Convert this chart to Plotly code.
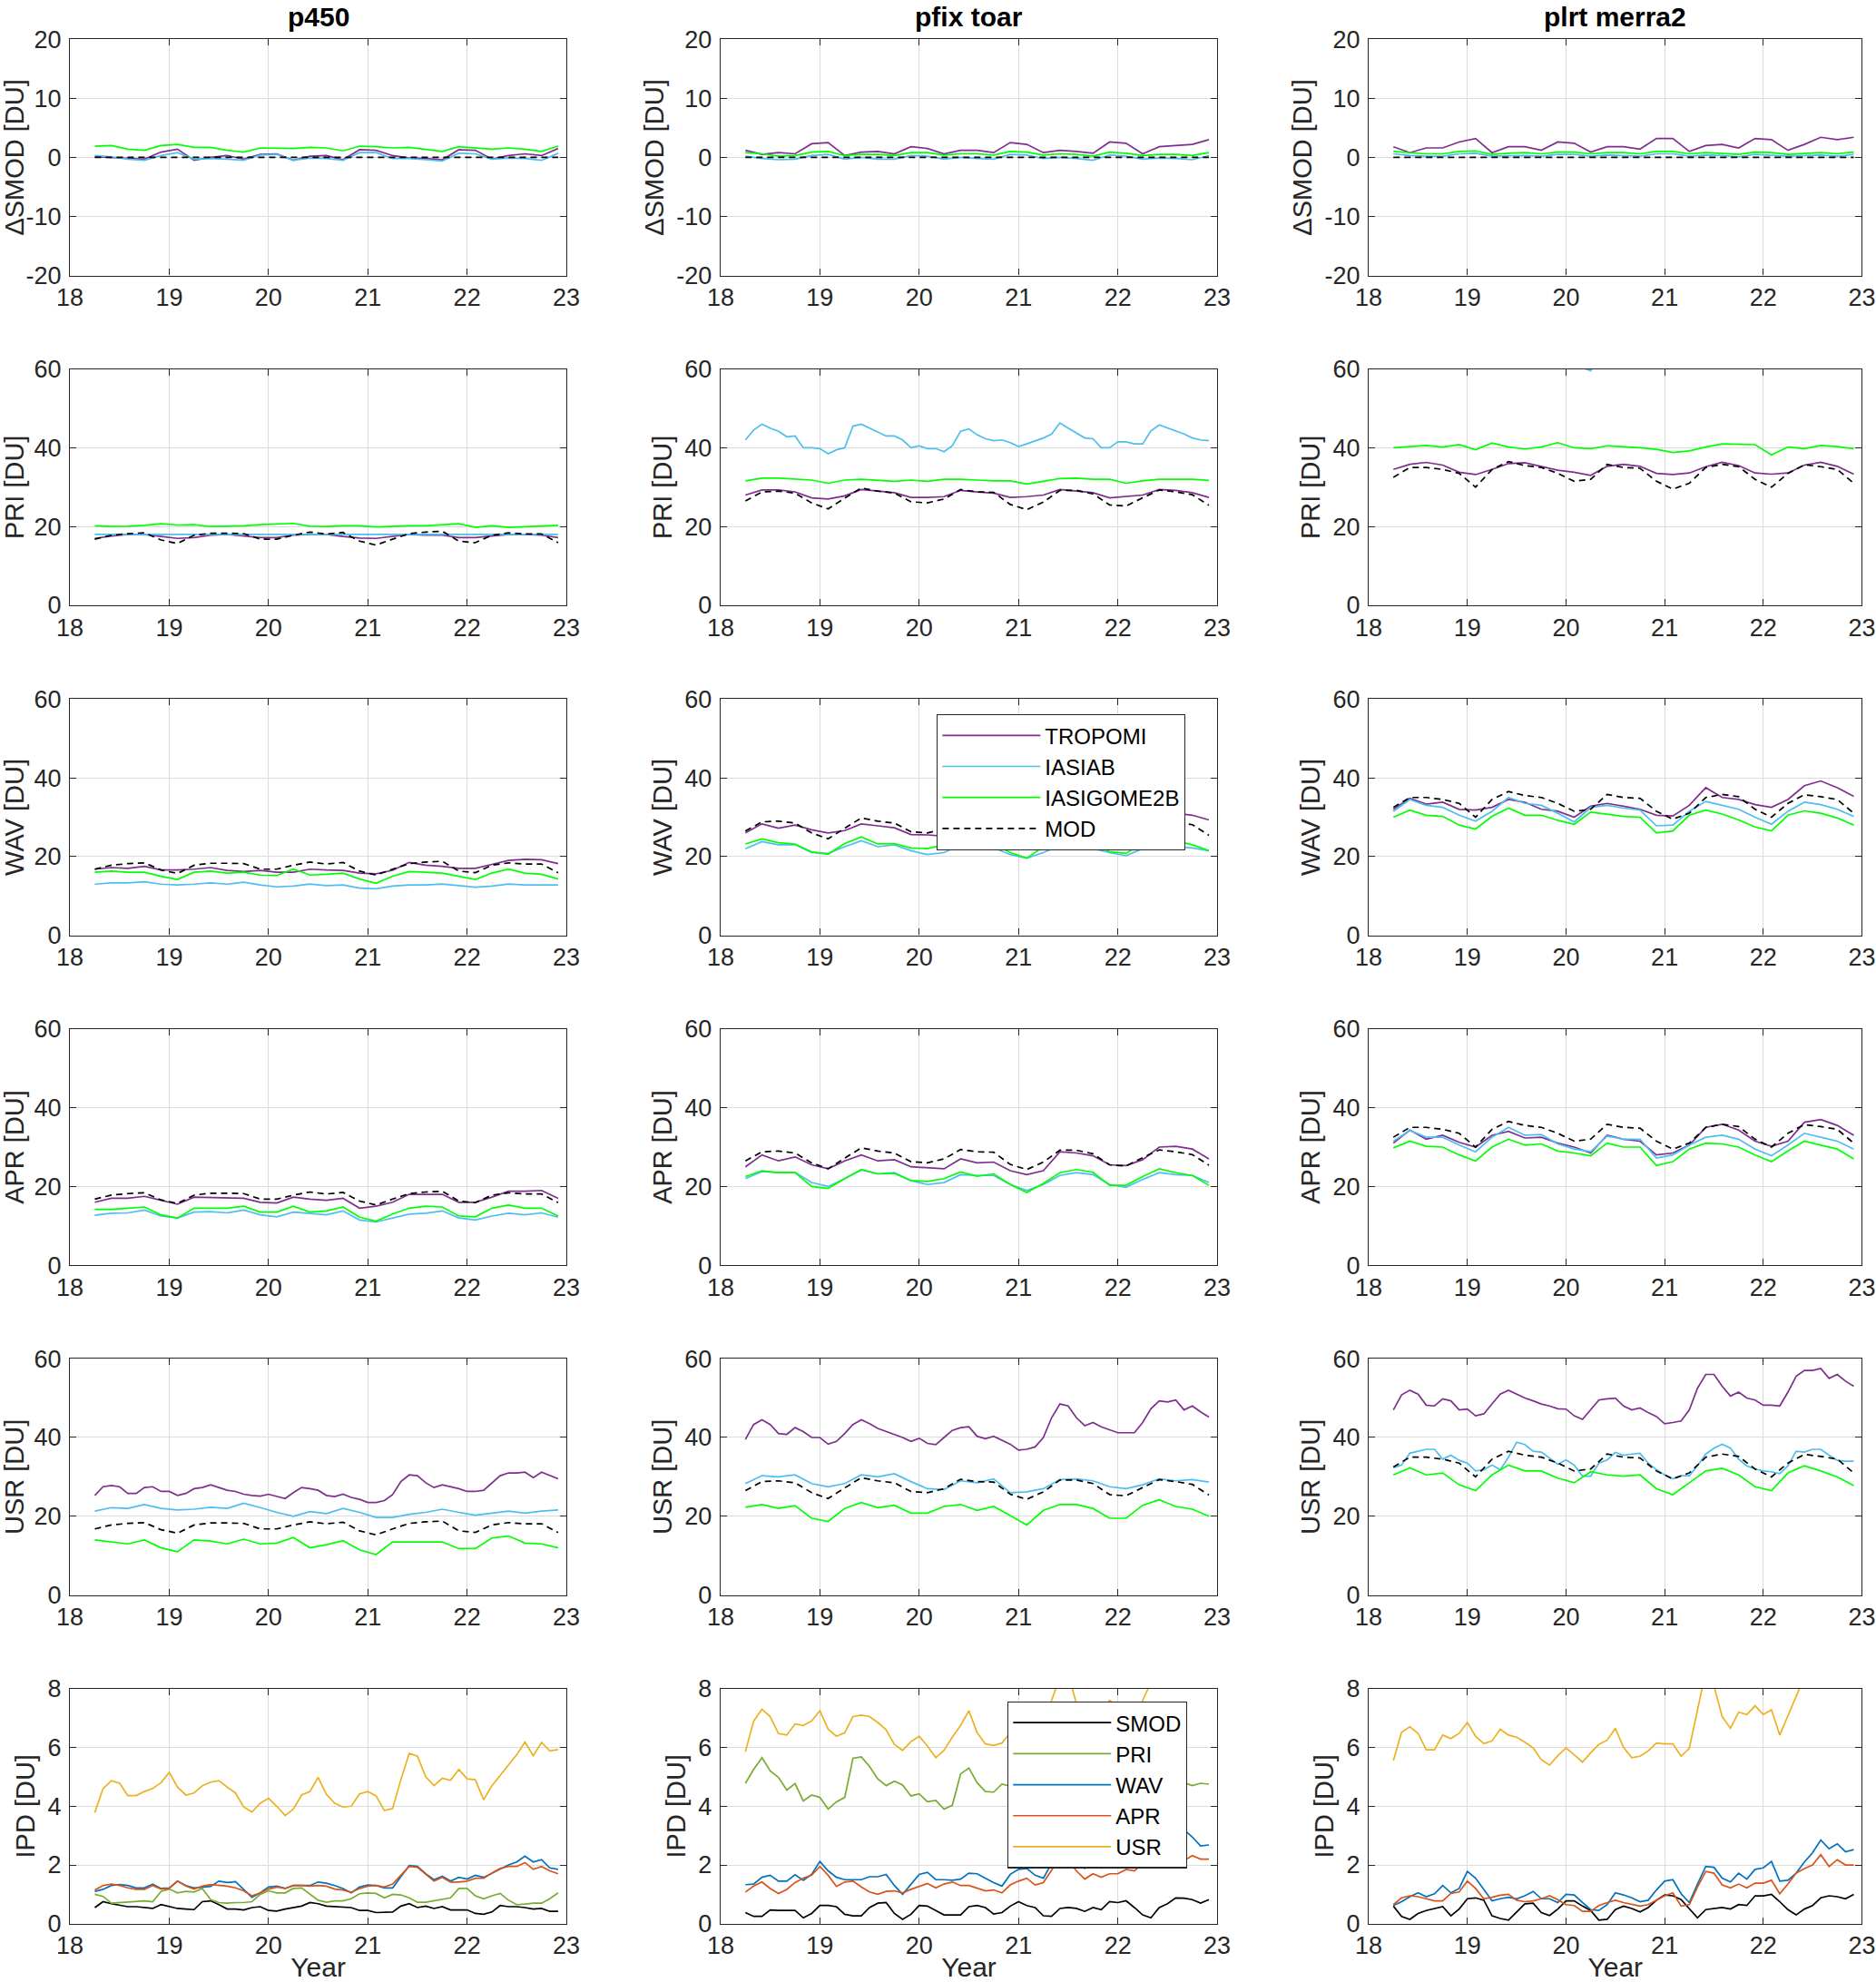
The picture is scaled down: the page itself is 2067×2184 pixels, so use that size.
import plotly.graph_objects as go

# ---------------- x values (decimal year, 2-digit) ----------------
years_bi = [18.250, 18.417, 18.583, 18.750, 18.917, 19.083, 19.250, 19.417, 19.583, 19.750,
            19.917, 20.083, 20.250, 20.417, 20.583, 20.750, 20.917, 21.083, 21.250, 21.417,
            21.583, 21.750, 21.917, 22.083, 22.250, 22.417, 22.583, 22.750, 22.917]
years_mo = [18.250, 18.333, 18.417, 18.500, 18.583, 18.667, 18.750, 18.833, 18.917,
            19.000, 19.083, 19.167, 19.250, 19.333, 19.417, 19.500, 19.583, 19.667, 19.750, 19.833, 19.917,
            20.000, 20.083, 20.167, 20.250, 20.333, 20.417, 20.500, 20.583, 20.667, 20.750, 20.833, 20.917,
            21.000, 21.083, 21.167, 21.250, 21.333, 21.417, 21.500, 21.583, 21.667, 21.750, 21.833, 21.917,
            22.000, 22.083, 22.167, 22.250, 22.333, 22.417, 22.500, 22.583, 22.667, 22.750, 22.833, 22.917]

col_titles = ["p450", "pfix toar", "plrt merra2"]
row_titles = ["\u0394SMOD [DU]", "PRI [DU]", "WAV [DU]", "APR [DU]", "USR [DU]", "IPD [DU]"]
sat_names = ["TROPOMI", "IASIAB", "IASIGOME2B", "MOD"]
ipd_names = ["SMOD", "PRI", "WAV", "APR", "USR"]

# ---------------- column 1 : p450 ----------------
dsmod1_trop = [0.1, 0.0, -0.2, -0.3, 0.9, 1.4, -0.5, 0.0, 0.3, -0.3, 0.5, 0.6, -0.5, 0.2, 0.3,
               -0.4, 1.3, 1.2, 0.3, -0.1, -0.2, -0.4, 1.3, 1.2, -0.3, 0.3, 0.6, 0.3, 1.5]
dsmod1_iasiab = [0.3, 0.1, -0.3, -0.5, 0.3, 0.8, -0.3, -0.2, -0.3, -0.5, 0.4, 0.5, -0.5, -0.1, -0.2,
                 -0.5, 0.8, 0.8, -0.2, -0.2, -0.4, -0.6, 0.7, 0.6, -0.3, -0.1, -0.2, -0.5, 0.7]
dsmod1_gome = [1.9, 2.0, 1.4, 1.2, 2.0, 2.2, 1.7, 1.7, 1.2, 0.9, 1.6, 1.6, 1.5, 1.7, 1.6,
               1.1, 1.9, 1.8, 1.6, 1.7, 1.4, 1.0, 1.8, 1.6, 1.4, 1.6, 1.4, 1.0, 1.9]
dsmod_mod = [0.0, 0.0, 0.0, 0.0, 0.0, 0.0, 0.0, 0.0, 0.0, 0.0, 0.0, 0.0, 0.0, 0.0, 0.0,
             0.0, 0.0, 0.0, 0.0, 0.0, 0.0, 0.0, 0.0, 0.0, 0.0, 0.0, 0.0, 0.0, 0.0]

mod1 = [16.8, 17.8, 18.2, 18.4, 16.6, 15.7, 17.8, 18.3, 18.3, 18.2, 16.8, 16.8, 17.8, 18.6, 18.1,
        18.5, 16.3, 15.3, 16.8, 18.2, 18.6, 18.8, 16.3, 15.9, 17.8, 18.4, 18.1, 18.1, 15.9]
pri1_trop = [17.0, 17.6, 18.0, 18.0, 17.5, 17.0, 17.2, 17.8, 18.0, 17.6, 17.2, 17.2, 17.8, 18.0, 18.0,
             17.5, 17.1, 17.0, 17.5, 18.0, 17.8, 17.8, 17.2, 17.2, 17.6, 18.0, 18.0, 17.8, 17.2]
pri1_iasiab = [18.0, 18.0, 18.0, 18.0, 18.0, 18.0, 18.0, 18.0, 18.0, 18.0, 18.0, 18.0, 18.0, 18.0, 18.0,
               18.0, 18.0, 18.0, 18.0, 18.0, 18.0, 18.0, 18.0, 18.0, 18.0, 18.0, 18.0, 18.0, 18.0]
pri1_gome = [20.2, 20.0, 20.1, 20.3, 20.7, 20.4, 20.5, 20.0, 20.1, 20.2, 20.5, 20.6, 20.8, 20.1, 20.0,
             20.2, 20.2, 19.9, 20.1, 20.2, 20.2, 20.4, 20.7, 19.8, 20.2, 19.8, 20.0, 20.1, 20.3]
wav1_trop = [16.8, 17.2, 17.0, 17.5, 16.6, 16.6, 16.8, 17.2, 16.5, 16.2, 16.5, 16.0, 16.0, 16.8, 16.6,
             16.5, 15.8, 15.6, 16.5, 18.5, 17.8, 17.5, 17.0, 17.0, 18.0, 19.0, 19.3, 19.2, 18.2]
wav1_iasiab = [13.0, 13.3, 13.3, 13.6, 13.0, 12.8, 13.0, 13.3, 13.0, 13.5, 12.8, 12.3, 12.5, 13.0, 12.6,
               12.8, 12.0, 11.8, 12.5, 12.8, 12.8, 13.0, 12.6, 12.2, 12.5, 13.0, 12.8, 12.8, 12.8]
wav1_gome = [16.0, 16.3, 16.0, 16.0, 15.0, 14.2, 16.0, 16.3, 15.8, 16.0, 15.3, 15.2, 16.8, 15.3, 15.5,
             15.8, 14.3, 13.2, 15.0, 16.2, 16.0, 15.8, 15.0, 14.2, 15.8, 16.8, 15.8, 15.5, 14.3]
apr1_trop = [16.0, 17.0, 17.0, 17.5, 16.5, 15.5, 17.3, 17.2, 17.0, 17.0, 16.0, 15.8, 17.3, 16.8, 16.5,
             17.0, 14.5, 15.0, 16.0, 18.0, 18.0, 18.0, 16.0, 16.0, 17.3, 18.8, 18.8, 19.0, 17.0]
apr1_iasiab = [12.7, 13.2, 13.3, 14.0, 12.5, 12.0, 13.5, 13.6, 13.3, 14.0, 12.8, 12.3, 13.5, 13.2, 12.8,
               13.8, 11.5, 11.0, 12.0, 13.0, 13.2, 13.8, 12.0, 11.5, 12.5, 13.2, 12.8, 13.3, 12.2]
apr1_gome = [14.2, 14.2, 14.5, 14.8, 12.8, 12.0, 14.5, 14.5, 14.5, 15.0, 13.5, 13.5, 15.0, 13.5, 13.8,
             14.8, 12.2, 11.2, 13.0, 14.5, 15.0, 14.8, 12.5, 12.3, 14.5, 15.3, 14.5, 14.5, 12.5]
# monthly
usr1_trop = [25.3, 27.5, 27.8, 27.5, 25.8, 25.8, 27.3, 27.5, 26.3, 26.3,
             25.3, 25.8, 27.0, 27.3, 28.0, 27.3, 26.6, 26.3, 25.6, 25.3,
             25.1, 25.6, 25.0, 24.5, 26.0, 27.3, 27.0, 26.6, 25.3, 25.0,
             25.6, 24.8, 24.3, 23.5, 23.5, 24.0, 25.5, 28.8, 30.5, 30.3,
             28.5, 27.3, 28.0, 27.5, 27.0, 26.3, 26.3, 26.6, 28.5, 30.3,
             31.0, 31.0, 31.2, 29.8, 31.2, 30.3, 29.5]
usr1_iasiab = [21.3, 22.2, 22.0, 23.0, 22.0, 21.6, 21.8, 22.3, 22.0, 23.3, 22.2, 21.0, 20.0, 21.2, 20.7,
               22.0, 21.0, 19.7, 19.7, 20.5, 21.0, 21.8, 21.0, 20.3, 20.8, 21.3, 20.8, 21.3, 21.6]
usr1_gome = [14.0, 13.5, 13.0, 14.0, 12.0, 11.0, 14.0, 13.7, 13.0, 14.2, 13.0, 13.2, 14.6, 12.0, 12.8,
             13.8, 11.5, 10.3, 13.5, 13.5, 13.5, 13.5, 11.8, 11.8, 14.5, 15.0, 13.2, 13.0, 12.0]

# ---------------- column 2 : pfix toar ----------------
dsmod2_trop = [1.2, 0.5, 0.8, 0.6, 2.3, 2.5, 0.3, 0.9, 1.0, 0.6, 1.8, 1.5, 0.6, 1.2, 1.2,
               0.8, 2.5, 2.2, 0.8, 1.2, 1.0, 0.7, 2.6, 2.4, 0.6, 1.8, 2.0, 2.2, 3.0]
dsmod2_iasiab = [0.2, -0.2, -0.4, -0.3, 0.3, 0.5, -0.3, 0.0, -0.3, -0.3, 0.3, 0.2, -0.3, 0.0, -0.2,
                 -0.3, 0.5, 0.4, -0.2, 0.0, -0.2, -0.5, 0.4, 0.2, -0.3, -0.1, -0.2, -0.4, 0.3]
dsmod2_gome = [0.8, 0.6, 0.2, 0.3, 0.9, 1.0, 0.3, 0.5, 0.5, 0.3, 0.8, 0.8, 0.4, 0.6, 0.6,
               0.4, 1.0, 0.9, 0.4, 0.6, 0.5, 0.2, 0.9, 0.7, 0.3, 0.5, 0.5, 0.3, 0.8]

mod2 = [26.5, 28.8, 29.0, 28.5, 26.0, 24.5, 27.2, 29.8, 29.0, 28.5, 26.3, 26.0, 27.0, 29.4, 28.8,
        28.7, 25.6, 24.3, 26.2, 29.2, 29.2, 28.3, 25.5, 25.2, 27.3, 29.3, 28.8, 28.1, 25.4]
pri2_trop = [28.0, 29.3, 29.3, 28.8, 27.3, 27.0, 27.8, 29.4, 29.0, 28.6, 27.4, 27.4, 27.6, 29.2, 28.8,
             28.5, 27.4, 27.6, 28.0, 29.4, 29.0, 28.6, 27.3, 27.6, 28.0, 29.4, 29.2, 28.6, 27.4]
# monthly
pri2_iasiab = [42.0, 44.5, 46.0, 45.0, 44.2, 42.8, 43.0, 40.0, 40.0, 39.8,
               38.5, 39.5, 40.0, 45.5, 46.0, 45.0, 44.0, 43.0, 43.0, 42.0,
               40.0, 40.5, 39.8, 39.8, 39.0, 40.5, 44.2, 44.8, 43.3, 42.3,
               41.8, 42.0, 41.3, 40.3, 41.0, 41.8, 42.5, 43.5, 46.3, 45.0,
               43.8, 42.5, 42.3, 40.0, 40.0, 41.5, 41.5, 41.0, 41.0, 44.3,
               45.8, 45.0, 44.3, 43.5, 42.5, 42.0, 41.8]
pri2_gome = [31.6, 32.3, 32.3, 32.0, 31.8, 31.0, 31.8, 32.0, 31.7, 31.5, 31.8, 31.5, 32.0, 32.0, 31.8,
             31.6, 31.6, 30.8, 31.5, 32.2, 32.3, 32.0, 32.0, 31.0, 31.6, 32.0, 32.0, 32.0, 31.7]
wav2_trop = [26.0, 28.3, 27.2, 28.0, 26.8, 26.0, 26.6, 28.3, 27.8, 27.3, 25.6, 25.5, 25.2, 27.0, 26.8,
             26.5, 25.2, 25.0, 25.5, 29.0, 30.0, 28.5, 27.5, 27.0, 28.0, 30.5, 31.0, 30.5, 29.3]
wav2_iasiab = [22.0, 23.8, 23.0, 23.0, 21.0, 20.8, 22.5, 24.0, 22.5, 23.0, 21.5, 20.5, 21.0, 23.0, 22.0,
               22.2, 20.5, 19.6, 21.0, 22.8, 23.0, 22.0, 21.0, 20.2, 22.0, 23.2, 22.5, 22.2, 21.5]
wav2_gome = [23.2, 24.5, 23.5, 23.2, 21.2, 20.6, 23.3, 25.0, 23.2, 23.3, 22.2, 22.0, 23.0, 24.2, 23.0,
             23.2, 21.0, 19.6, 22.5, 24.2, 24.5, 23.5, 21.2, 20.8, 23.5, 25.0, 24.0, 23.0, 21.5]
apr2_trop = [25.0, 28.0, 26.5, 27.5, 25.5, 24.5, 26.5, 28.0, 26.5, 26.8, 25.0, 24.7, 24.5, 27.0, 26.0,
             26.2, 24.0, 23.0, 24.0, 28.8, 28.5, 27.8, 25.5, 25.3, 26.8, 30.0, 30.2, 29.5, 27.0]
apr2_iasiab = [22.0, 23.8, 23.5, 23.6, 21.0, 20.0, 22.0, 24.2, 23.2, 23.5, 21.5, 20.5, 21.0, 23.0, 22.8,
               22.8, 20.5, 19.0, 20.5, 22.8, 23.5, 23.0, 20.5, 19.8, 21.8, 23.5, 23.0, 22.8, 21.0]
apr2_gome = [22.5, 24.0, 23.5, 23.5, 20.0, 19.5, 22.0, 24.3, 23.2, 23.3, 21.5, 21.3, 22.0, 23.7, 22.6,
             23.2, 20.5, 18.5, 20.8, 23.5, 24.3, 23.6, 20.3, 20.3, 22.5, 24.5, 23.5, 22.8, 20.3]
# monthly
usr2_trop = [39.5, 43.3, 44.5, 43.3, 41.0, 40.8, 42.5, 41.5, 40.0, 40.0,
             38.3, 39.0, 41.0, 43.3, 44.5, 43.5, 42.3, 41.5, 40.8, 40.0,
             39.0, 39.8, 38.5, 38.2, 40.0, 41.8, 42.5, 42.7, 40.3, 39.7,
             40.3, 39.3, 38.3, 36.8, 37.0, 37.6, 40.0, 45.0, 48.5, 48.0,
             45.0, 43.0, 43.8, 42.7, 42.0, 41.2, 41.2, 41.2, 43.8, 47.3,
             49.3, 49.0, 49.5, 47.0, 48.0, 46.5, 45.2]
usr2_iasiab = [28.3, 30.3, 30.0, 30.5, 28.3, 27.5, 28.3, 30.5, 30.0, 30.8, 28.8, 27.0, 26.8, 29.0, 28.5,
               29.5, 26.0, 26.2, 27.0, 29.3, 29.5, 29.0, 27.5, 27.0, 28.0, 29.5, 29.0, 29.3, 28.7]
usr2_gome = [22.3, 23.0, 22.0, 22.7, 19.5, 18.7, 22.0, 23.5, 22.2, 22.8, 20.8, 20.8, 22.5, 23.0, 21.5,
             22.5, 20.2, 17.8, 21.5, 23.0, 23.0, 22.0, 19.5, 19.5, 22.8, 24.2, 22.5, 21.8, 20.0]

# ---------------- column 3 : plrt merra2 ----------------
dsmod3_trop = [1.8, 0.8, 1.6, 1.6, 2.6, 3.2, 0.8, 1.8, 1.8, 1.2, 2.6, 2.4, 0.9, 1.8, 1.8,
               1.4, 3.2, 3.2, 1.0, 2.0, 2.2, 1.6, 3.2, 3.0, 1.2, 2.2, 3.4, 3.0, 3.4]
dsmod3_iasiab = [0.6, 0.3, 0.2, 0.2, 0.6, 0.7, 0.2, 0.3, 0.3, 0.2, 0.5, 0.5, 0.2, 0.4, 0.3,
                 0.2, 0.6, 0.6, 0.2, 0.4, 0.3, 0.1, 0.5, 0.4, 0.2, 0.3, 0.4, 0.2, 0.5]
dsmod3_gome = [1.0, 0.8, 0.6, 0.6, 1.0, 1.1, 0.5, 0.7, 0.8, 0.6, 0.9, 0.9, 0.6, 0.8, 0.8,
               0.6, 1.0, 1.0, 0.6, 0.8, 0.7, 0.5, 0.9, 0.8, 0.5, 0.7, 0.8, 0.6, 0.9]

mod3 = [32.5, 35.0, 35.0, 34.5, 33.5, 30.0, 34.5, 36.5, 35.5, 35.0, 33.5, 31.5, 32.0, 35.8, 35.0,
        34.8, 31.5, 29.5, 31.0, 35.0, 35.8, 35.2, 32.0, 30.0, 33.5, 35.7, 35.2, 34.5, 31.0]
pri3_trop = [34.5, 35.8, 36.3, 35.6, 33.8, 33.2, 34.5, 36.0, 36.2, 35.3, 34.3, 33.8, 33.0, 35.3, 35.8,
             35.3, 33.5, 33.2, 33.6, 35.2, 36.3, 35.5, 33.6, 33.3, 33.6, 35.6, 36.3, 35.3, 33.3]
pri3_iasiab = [63.0, 66.0, 65.0, 64.0, 62.0, 61.0, 63.0, 66.0, 65.0, 64.0, 62.0, 61.0, 59.6, 65.0, 65.0,
               64.0, 62.0, 61.0, 62.0, 66.0, 65.0, 64.0, 62.0, 61.0, 63.0, 66.0, 65.0, 64.0, 62.0]
pri3_gome = [40.0, 40.3, 40.6, 40.2, 40.8, 39.5, 41.2, 40.2, 39.7, 40.2, 41.3, 40.0, 39.8, 40.5, 40.3,
             40.0, 39.6, 38.8, 39.2, 40.2, 41.0, 40.9, 40.8, 38.2, 40.2, 39.8, 40.6, 40.3, 39.8]
wav3_trop = [32.0, 34.8, 33.3, 33.8, 32.0, 31.8, 32.5, 34.5, 33.8, 32.0, 31.5, 30.0, 32.8, 33.5, 32.8,
             32.0, 30.5, 30.3, 33.0, 37.5, 35.0, 34.5, 33.2, 32.5, 34.5, 38.0, 39.2, 37.5, 35.3]
wav3_iasiab = [31.5, 34.5, 33.0, 32.5, 30.5, 29.0, 31.5, 35.0, 33.5, 33.0, 31.0, 28.8, 32.5, 33.0, 32.3,
               31.8, 27.8, 28.0, 31.5, 34.0, 33.0, 32.0, 30.0, 28.2, 31.5, 33.8, 33.2, 32.0, 30.2]
wav3_gome = [30.0, 31.8, 30.5, 30.2, 28.0, 27.0, 30.2, 32.3, 30.5, 30.5, 29.2, 28.2, 31.3, 30.8, 30.2,
             30.0, 26.0, 26.5, 30.5, 31.8, 30.8, 29.3, 27.5, 26.5, 30.5, 31.6, 31.0, 29.8, 28.0]
apr3_trop = [31.0, 34.3, 32.0, 33.0, 31.2, 30.0, 33.0, 34.0, 32.3, 32.5, 31.0, 30.0, 28.5, 33.0, 32.0,
             31.5, 28.0, 28.5, 30.5, 35.0, 35.8, 34.3, 31.5, 30.2, 31.5, 36.3, 37.0, 35.5, 33.0]
apr3_iasiab = [31.5, 34.2, 32.5, 32.5, 30.5, 28.8, 32.5, 35.0, 33.0, 33.2, 30.8, 29.5, 28.8, 32.8, 32.0,
               32.0, 27.2, 28.0, 30.5, 32.5, 33.0, 32.0, 29.5, 27.8, 30.5, 33.5, 32.5, 31.5, 29.5]
apr3_gome = [29.8, 31.5, 30.2, 30.0, 28.0, 26.5, 30.0, 32.0, 30.5, 30.8, 29.0, 28.5, 27.8, 31.0, 30.0,
             30.0, 25.3, 26.3, 29.5, 31.0, 30.8, 30.0, 28.0, 26.3, 29.0, 31.5, 30.5, 29.5, 27.0]
# monthly
usr3_trop = [47.0, 50.8, 52.0, 51.0, 48.2, 48.0, 49.8, 49.3, 47.0, 47.2,
             45.5, 46.0, 48.5, 51.0, 52.0, 51.0, 50.0, 49.3, 48.5, 48.0,
             47.3, 47.2, 45.5, 44.6, 47.0, 49.5, 49.8, 50.0, 48.0, 47.0,
             47.5, 46.3, 45.3, 43.5, 43.8, 44.2, 47.0, 52.5, 56.0, 56.0,
             53.0, 50.5, 51.5, 50.0, 49.5, 48.2, 48.2, 48.0, 51.5, 55.5,
             57.0, 57.0, 57.5, 55.0, 56.0, 54.3, 53.0]
usr3_iasiab = [32.3, 33.0, 36.0, 36.5, 37.0, 37.0, 34.5, 35.5, 34.2, 33.5,
               31.5, 31.8, 33.0, 31.8, 35.0, 38.8, 38.2, 36.5, 36.3, 34.8,
               33.2, 34.3, 33.0, 30.2, 30.2, 33.5, 34.3, 36.2, 35.5, 35.8,
               36.0, 33.5, 31.8, 30.5, 29.5, 30.3, 30.3, 32.8, 35.8, 37.3,
               38.3, 37.3, 34.5, 32.8, 32.0, 31.5, 31.3, 30.8, 32.8, 36.5,
               36.3, 37.0, 37.0, 35.5, 34.2, 34.0, 34.0]
usr3_gome = [30.5, 32.3, 30.5, 31.0, 28.0, 26.5, 30.5, 33.0, 31.5, 31.5, 29.7, 28.5, 31.3, 30.5, 30.2,
             30.5, 27.0, 25.5, 28.5, 31.5, 32.2, 30.5, 27.5, 26.5, 31.0, 32.8, 31.5, 30.0, 27.8]

# ---------------- IPD (monthly) ----------------
ipd1_smod = [0.55, 0.75, 0.68, 0.63, 0.58, 0.58, 0.55, 0.52, 0.65, 0.58,
             0.52, 0.50, 0.48, 0.75, 0.78, 0.65, 0.50, 0.50, 0.47, 0.55,
             0.58, 0.45, 0.43, 0.50, 0.55, 0.60, 0.72, 0.68, 0.60, 0.58,
             0.58, 0.55, 0.45, 0.45, 0.38, 0.38, 0.40, 0.60, 0.68, 0.55,
             0.60, 0.52, 0.58, 0.47, 0.47, 0.47, 0.35, 0.32, 0.40, 0.62,
             0.58, 0.58, 0.55, 0.50, 0.52, 0.42, 0.42]
ipd1_pri = [1.00, 0.93, 0.70, 0.72, 0.73, 0.76, 0.78, 0.75, 1.10, 1.18,
            1.05, 1.10, 1.08, 1.20, 0.82, 0.72, 0.70, 0.72, 0.72, 0.75,
            1.00, 1.12, 1.05, 1.05, 1.20, 1.22, 1.00, 0.80, 0.73, 0.78,
            0.78, 0.85, 1.02, 1.05, 1.03, 0.88, 1.00, 0.98, 0.88, 0.73,
            0.73, 0.78, 0.82, 0.88, 1.20, 1.20, 0.95, 0.85, 0.95, 1.03,
            0.80, 0.65, 0.67, 0.70, 0.70, 0.85, 1.05]
ipd1_wav = [1.10, 1.17, 1.30, 1.33, 1.30, 1.22, 1.22, 1.35, 1.20, 1.22,
            1.45, 1.30, 1.22, 1.25, 1.27, 1.45, 1.40, 1.43, 1.15, 0.90,
            1.05, 1.25, 1.28, 1.20, 1.30, 1.30, 1.30, 1.42, 1.38, 1.30,
            1.20, 1.05, 1.25, 1.32, 1.30, 1.22, 1.22, 1.60, 1.98, 1.95,
            1.70, 1.50, 1.62, 1.45, 1.58, 1.52, 1.65, 1.58, 1.72, 1.85,
            2.00, 2.10, 2.30, 2.10, 2.18, 1.90, 1.85]
ipd1_apr = [1.15, 1.30, 1.35, 1.30, 1.22, 1.17, 1.17, 1.30, 1.18, 1.20,
            1.45, 1.28, 1.18, 1.28, 1.33, 1.30, 1.28, 1.22, 1.12, 0.95,
            1.05, 1.18, 1.25, 1.20, 1.30, 1.30, 1.28, 1.30, 1.28, 1.18,
            1.15, 1.07, 1.20, 1.28, 1.30, 1.25, 1.35, 1.65, 1.95, 1.92,
            1.70, 1.45, 1.58, 1.42, 1.42, 1.45, 1.55, 1.55, 1.72, 1.88,
            1.95, 1.95, 2.08, 1.85, 1.95, 1.80, 1.70]
ipd1_usr = [3.78, 4.60, 4.87, 4.78, 4.36, 4.36, 4.50, 4.60, 4.80, 5.15,
            4.65, 4.38, 4.45, 4.70, 4.82, 4.87, 4.65, 4.45, 3.97, 3.80,
            4.10, 4.27, 4.00, 3.68, 3.90, 4.38, 4.50, 4.98, 4.40, 4.10,
            3.97, 4.00, 4.42, 4.50, 4.35, 3.85, 3.92, 4.90, 5.80, 5.70,
            5.00, 4.70, 4.95, 4.88, 5.25, 4.93, 4.90, 4.22, 4.70, 5.05,
            5.40, 5.75, 6.18, 5.72, 6.17, 5.88, 5.93]

ipd2_smod = [0.38, 0.25, 0.25, 0.47, 0.45, 0.45, 0.45, 0.20, 0.35, 0.62,
             0.62, 0.58, 0.32, 0.27, 0.27, 0.55, 0.70, 0.72, 0.35, 0.15,
             0.32, 0.62, 0.60, 0.45, 0.30, 0.30, 0.30, 0.58, 0.62, 0.55,
             0.33, 0.38, 0.60, 0.75, 0.62, 0.55, 0.27, 0.25, 0.52, 0.55,
             0.52, 0.42, 0.55, 0.48, 0.75, 0.72, 0.78, 0.55, 0.30, 0.20,
             0.55, 0.68, 0.88, 0.87, 0.82, 0.70, 0.82]
ipd2_pri = [4.78, 5.25, 5.65, 5.20, 4.98, 4.55, 4.77, 4.18, 4.38, 4.30,
            3.90, 4.15, 4.30, 5.63, 5.68, 5.35, 4.93, 4.70, 4.85, 4.72,
            4.35, 4.42, 4.15, 4.20, 3.90, 4.03, 5.10, 5.30, 4.80, 4.50,
            4.48, 4.75, 4.68, 4.60, 4.70, 4.50, 4.60, 5.40, 5.80, 5.50,
            5.00, 4.80, 4.90, 4.70, 4.60, 4.80, 4.70, 4.50, 4.80, 5.30,
            5.50, 5.20, 5.00, 4.80, 4.70, 4.78, 4.75]
ipd2_wav = [1.33, 1.35, 1.58, 1.65, 1.45, 1.45, 1.67, 1.48, 1.68, 2.12,
            1.80, 1.58, 1.50, 1.50, 1.50, 1.60, 1.60, 1.68, 1.30, 1.00,
            1.35, 1.68, 1.75, 1.50, 1.50, 1.48, 1.52, 1.72, 1.70, 1.55,
            1.40, 1.28, 1.68, 1.85, 1.88, 1.65, 1.55, 2.05, 2.62, 2.55,
            2.15, 1.88, 2.12, 1.90, 2.20, 2.18, 2.42, 2.20, 2.28, 2.40,
            2.65, 3.00, 3.30, 3.20, 2.95, 2.65, 2.68]
ipd2_apr = [1.08, 1.28, 1.42, 1.20, 1.03, 1.17, 1.40, 1.55, 1.65, 1.95,
            1.65, 1.27, 1.42, 1.45, 1.25, 1.08, 1.00, 1.10, 1.12, 1.05,
            1.17, 1.28, 1.37, 1.22, 1.35, 1.42, 1.30, 1.30, 1.22, 1.12,
            1.15, 1.05, 1.32, 1.45, 1.55, 1.32, 1.40, 1.82, 2.25, 2.15,
            1.80, 1.52, 1.70, 1.58, 1.70, 1.70, 1.85, 1.80, 2.05, 2.32,
            2.32, 2.35, 2.55, 2.15, 2.32, 2.20, 2.20]
ipd2_usr = [5.85, 6.90, 7.30, 7.05, 6.47, 6.42, 6.80, 6.75, 6.90, 7.25,
            6.62, 6.38, 6.50, 7.05, 7.10, 7.05, 6.85, 6.60, 6.10, 5.90,
            6.20, 6.38, 6.05, 5.65, 5.90, 6.35, 6.75, 7.25, 6.50, 6.12,
            6.07, 6.15, 6.50, 6.70, 6.90, 6.60, 6.90, 7.60, 8.40, 8.50,
            7.50, 7.30, 7.40, 7.30, 7.60, 7.40, 7.50, 6.90, 7.60, 8.20,
            8.60, 8.80, 9.00, 8.60, 8.80, 8.50, 8.60]

ipd3_smod = [0.60, 0.25, 0.15, 0.35, 0.45, 0.52, 0.58, 0.27, 0.50, 0.85,
             0.88, 0.80, 0.27, 0.18, 0.12, 0.40, 0.68, 0.70, 0.38, 0.28,
             0.50, 0.78, 0.78, 0.60, 0.45, 0.12, 0.15, 0.48, 0.60, 0.52,
             0.40, 0.55, 0.80, 0.98, 0.95, 0.82, 0.50, 0.20, 0.48, 0.52,
             0.55, 0.50, 0.65, 0.62, 0.95, 0.95, 1.00, 0.75, 0.48, 0.30,
             0.50, 0.62, 0.88, 0.95, 0.92, 0.85, 1.00]
ipd3_wav = [0.62, 0.75, 0.92, 1.05, 0.92, 1.02, 1.30, 1.05, 1.20, 1.78,
            1.55, 1.15, 0.78, 0.85, 0.90, 0.85, 0.95, 1.10, 0.85, 0.85,
            0.72, 1.00, 0.98, 0.72, 0.48, 0.45, 0.65, 1.05, 0.98, 0.88,
            0.75, 0.80, 1.15, 1.45, 1.50, 1.02, 0.72, 1.35, 1.95, 1.92,
            1.55, 1.42, 1.72, 1.52, 1.85, 1.90, 2.12, 1.45, 1.48, 1.72,
            2.10, 2.42, 2.85, 2.55, 2.72, 2.45, 2.52]
ipd3_apr = [0.65, 0.88, 0.95, 0.92, 0.85, 0.78, 0.78, 1.03, 1.08, 1.45,
            1.20, 0.85, 0.90, 0.97, 1.00, 0.80, 0.75, 0.78, 0.85, 0.95,
            0.82, 0.65, 0.62, 0.42, 0.42, 0.62, 0.72, 0.80, 0.72, 0.65,
            0.60, 0.65, 0.80, 0.95, 1.05, 0.60, 0.65, 1.25, 1.78, 1.72,
            1.32, 1.22, 1.35, 1.22, 1.38, 1.38, 1.48, 1.02, 1.35, 1.72,
            1.88, 2.00, 2.35, 1.95, 2.18, 2.00, 2.00]
ipd3_usr = [5.55, 6.52, 6.70, 6.48, 5.92, 5.92, 6.42, 6.30, 6.48, 6.85,
            6.38, 6.13, 6.22, 6.62, 6.42, 6.35, 6.18, 5.98, 5.58, 5.40,
            5.72, 5.98, 5.75, 5.50, 5.82, 6.10, 6.25, 6.65, 6.00, 5.65,
            5.70, 5.88, 6.15, 6.12, 6.12, 5.70, 5.97, 7.30, 8.60, 8.10,
            7.05, 6.65, 7.20, 7.12, 7.42, 7.12, 7.28, 6.42, 7.10, 7.80,
            8.40, 8.80, 9.00, 8.70, 8.90, 8.60, 8.70]

# ---------------- styling ----------------
SAT_COLORS = {"TROPOMI": "#7E2F8E", "IASIAB": "#4DBEEE", "IASIGOME2B": "#00FF00", "MOD": "#000000"}
IPD_COLORS = {"SMOD": "#000000", "PRI": "#77AC30", "WAV": "#0072BD", "APR": "#D95319", "USR": "#EDB120"}
FONT = "Liberation Sans, Arial, sans-serif"
AXC = "#262626"
GRID = "#dcdcdc"

x_domains = [[0.0373, 0.3019], [0.3841, 0.6488], [0.7296, 0.9925]]
y_domains = [[0.8610, 0.9802], [0.6946, 0.8138], [0.5281, 0.6473],
             [0.3616, 0.4809], [0.1952, 0.3145], [0.0294, 0.1480]]
y_ranges = [[-20, 20], [0, 60], [0, 60], [0, 60], [0, 60], [0, 8]]
y_ticks = [[-20, -10, 0, 10, 20], [0, 20, 40, 60], [0, 20, 40, 60], [0, 20, 40, 60], [0, 20, 40, 60],
           [0, 2, 4, 6, 8]]
x_ticks = [18, 19, 20, 21, 22, 23]

sat_panels = [
    [[dsmod1_trop, dsmod1_iasiab, dsmod1_gome, dsmod_mod],
     [dsmod2_trop, dsmod2_iasiab, dsmod2_gome, dsmod_mod],
     [dsmod3_trop, dsmod3_iasiab, dsmod3_gome, dsmod_mod]],
    [[pri1_trop, pri1_iasiab, pri1_gome, mod1],
     [pri2_trop, pri2_iasiab, pri2_gome, mod2],
     [pri3_trop, pri3_iasiab, pri3_gome, mod3]],
    [[wav1_trop, wav1_iasiab, wav1_gome, mod1],
     [wav2_trop, wav2_iasiab, wav2_gome, mod2],
     [wav3_trop, wav3_iasiab, wav3_gome, mod3]],
    [[apr1_trop, apr1_iasiab, apr1_gome, mod1],
     [apr2_trop, apr2_iasiab, apr2_gome, mod2],
     [apr3_trop, apr3_iasiab, apr3_gome, mod3]],
    [[usr1_trop, usr1_iasiab, usr1_gome, mod1],
     [usr2_trop, usr2_iasiab, usr2_gome, mod2],
     [usr3_trop, usr3_iasiab, usr3_gome, mod3]],
]
ipd_panels = [
    {"SMOD": ipd1_smod, "PRI": ipd1_pri, "WAV": ipd1_wav, "APR": ipd1_apr, "USR": ipd1_usr},
    {"SMOD": ipd2_smod, "PRI": ipd2_pri, "WAV": ipd2_wav, "APR": ipd2_apr, "USR": ipd2_usr},
    {"SMOD": ipd3_smod, "WAV": ipd3_wav, "APR": ipd3_apr, "USR": ipd3_usr},
]


def x_for(values):
    return years_mo if len(values) == len(years_mo) else years_bi


fig = go.Figure()
layout = {}

for r in range(6):
    for c in range(3):
        n = r * 3 + c + 1
        xa = "x" if n == 1 else f"x{n}"
        ya = "y" if n == 1 else f"y{n}"
        if r < 5:
            for name, yv in zip(sat_names, sat_panels[r][c]):
                show = (r == 2 and c == 1)
                fig.add_trace(go.Scatter(
                    x=x_for(yv), y=yv, mode="lines", name=name,
                    line=dict(color=SAT_COLORS[name], width=1.7,
                              dash="7px,5px" if name == "MOD" else "solid"),
                    xaxis=xa, yaxis=ya, showlegend=show, legend="legend",
                    hoverinfo="skip"))
        else:
            for name in ipd_names:
                if name not in ipd_panels[c]:
                    continue
                show = (c == 1)
                fig.add_trace(go.Scatter(
                    x=years_mo, y=ipd_panels[c][name], mode="lines", name=name,
                    line=dict(color=IPD_COLORS[name], width=1.7),
                    xaxis=xa, yaxis=ya, showlegend=show, legend="legend2",
                    hoverinfo="skip"))

        axis_common = dict(showline=True, linecolor=AXC, linewidth=1.3, mirror="ticks",
                           ticks="inside", ticklen=7, tickwidth=1.3, tickcolor=AXC,
                           showgrid=True, gridcolor=GRID, gridwidth=1, zeroline=False,
                           automargin=False,
                           tickfont=dict(family=FONT, size=27, color=AXC))
        xkey = "xaxis" if n == 1 else f"xaxis{n}"
        ykey = "yaxis" if n == 1 else f"yaxis{n}"
        xdict = dict(axis_common, domain=x_domains[c], anchor=ya, range=[18, 23],
                     tickmode="array", tickvals=x_ticks, ticktext=[str(v) for v in x_ticks],
                     ticklabelstandoff=0)
        if r == 5:
            xdict["title"] = dict(text="Year", font=dict(family=FONT, size=30, color=AXC), standoff=0)
        ydict = dict(axis_common, domain=y_domains[r], anchor=xa, range=y_ranges[r],
                     tickmode="array", tickvals=y_ticks[r], ticktext=[str(v) for v in y_ticks[r]],
                     ticklabelstandoff=3,
                     title=dict(text=row_titles[r], font=dict(family=FONT, size=29, color=AXC),
                                standoff=5))
        layout[xkey] = xdict
        layout[ykey] = ydict

annotations = []
for c in range(3):
    annotations.append(dict(
        text=f"<b>{col_titles[c]}</b>", x=(x_domains[c][0] + x_domains[c][1]) / 2, y=0.9995,
        xref="paper", yref="paper", xanchor="center", yanchor="top", showarrow=False,
        borderpad=0, font=dict(family=FONT, size=30, color="#000000")))

fig.update_layout(
    **layout,
    width=2067, height=2184,
    margin=dict(l=0, r=0, t=0, b=0, autoexpand=False),
    paper_bgcolor="white", plot_bgcolor="white",
    font=dict(family=FONT, size=24, color=AXC),
    annotations=annotations,
    legend=dict(x=0.4993, y=0.6397, xanchor="left", yanchor="top", bgcolor="white",
                bordercolor=AXC, borderwidth=1.3, font=dict(family=FONT, size=24, color="#000000"),
                itemwidth=108, tracegroupgap=0),
    legend2=dict(x=0.537, y=0.1416, xanchor="left", yanchor="top", bgcolor="white",
                 bordercolor=AXC, borderwidth=1.3, font=dict(family=FONT, size=24, color="#000000"),
                 itemwidth=108, tracegroupgap=0),
    showlegend=True,
)

fig.write_html(
    "out.html",
    config={"displayModeBar": False},
    post_script="document.body.style.margin='0px';document.body.style.padding='0px';"
                "document.body.style.overflow='hidden';",
)
